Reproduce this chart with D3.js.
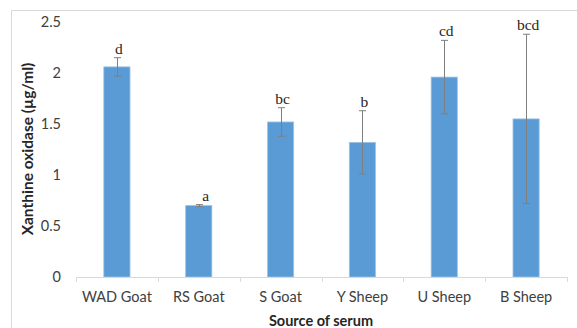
<!DOCTYPE html>
<html>
<head>
<meta charset="utf-8">
<script src="https://cdn.jsdelivr.net/npm/d3@7/dist/d3.min.js"></script>
<style>
  html, body { margin: 0; padding: 0; background: #fff; }
  svg { display: block; }
</style>
</head>
<body>
<div id="chart"></div>
<script>
// Serum xanthine oxidase by animal source
const categories = ["WAD Goat", "RS Goat", "S Goat", "Y Sheep", "U Sheep", "B Sheep"];
const means = [2.06, 0.70, 1.52, 1.32, 1.96, 1.55];
const errors = [0.09, 0.01, 0.14, 0.31, 0.36, 0.83];
const groups = ["d", "a", "bc", "b", "cd", "bcd"];
const yTicks = [0, 0.5, 1, 1.5, 2, 2.5];
const yTickLabels = ["0", "0.5", "1", "1.5", "2", "2.5"];

const W = 577, H = 328;
const svg = d3.select("#chart").append("svg").attr("width", W).attr("height", H);

// chart area frame (top and left edges visible)
svg.append("path")
  .attr("d", "M11.5,340 L11.5,10.5 L580,10.5")
  .attr("fill", "none").attr("stroke", "#d9d9d9").attr("stroke-width", 1);

const plot = { left: 76, right: 567, top: 22, bottom: 277 };

const x = d3.scaleBand().domain(categories).range([plot.left, plot.right]).paddingInner(0.68).paddingOuter(0.34);
const xTickScale = d3.scaleBand().domain(categories).range([plot.left, plot.right]);
const y = d3.scaleLinear().domain([0, 2.5]).range([plot.bottom, plot.top]);

const fontSans = "Lato, 'Open Sans', sans-serif";

// y tick labels
svg.append("g").selectAll("text").data(yTicks).join("text")
  .attr("x", 61).attr("y", d => y(d)).attr("dy", "0.35em")
  .attr("text-anchor", "end")
  .attr("font-family", fontSans).attr("font-size", 14.5).attr("fill", "#404040")
  .text((d, i) => yTickLabels[i]);

// bars
svg.append("g").selectAll("rect").data(categories).join("rect")
  .attr("x", d => x(d)).attr("width", x.bandwidth())
  .attr("y", (d, i) => y(means[i])).attr("height", (d, i) => y(0) - y(means[i]))
  .attr("fill", "#5b9bd5").attr("stroke", "#9dc3e6").attr("stroke-width", 0.8);

// x axis line and tick marks
svg.append("line").attr("x1", plot.left).attr("x2", plot.right)
  .attr("y1", plot.bottom + 0.5).attr("y2", plot.bottom + 0.5)
  .attr("stroke", "#d9d9d9").attr("stroke-width", 1);
const tickPos = categories.map(c => xTickScale(c)).concat([plot.right]);
svg.append("g").selectAll("line").data(tickPos).join("line")
  .attr("x1", d => Math.round(d) + 0.5).attr("x2", d => Math.round(d) + 0.5)
  .attr("y1", plot.bottom).attr("y2", plot.bottom + 5)
  .attr("stroke", "#d9d9d9");

// category labels
svg.append("g").selectAll("text").data(categories).join("text")
  .attr("x", d => xTickScale(d) + xTickScale.bandwidth() / 2).attr("y", 302)
  .attr("text-anchor", "middle")
  .attr("font-family", fontSans).attr("font-size", 14.5).attr("fill", "#404040")
  .text(d => d);

// error bars
const eb = svg.append("g").attr("stroke", "#7f7f7f").attr("stroke-width", 1);
categories.forEach((c, i) => {
  const cx = Math.round(x(c) + x.bandwidth() / 2) + 0.5;
  const hi = y(means[i] + errors[i]), lo = y(means[i] - errors[i]);
  eb.append("line").attr("x1", cx).attr("x2", cx).attr("y1", hi).attr("y2", lo);
  eb.append("line").attr("x1", cx - 3.5).attr("x2", cx + 3.5).attr("y1", hi).attr("y2", hi);
  eb.append("line").attr("x1", cx - 3.5).attr("x2", cx + 3.5).attr("y1", lo).attr("y2", lo);
});

// significance letters
svg.append("g").selectAll("text").data(categories).join("text")
  .attr("x", (d, i) => x(d) + x.bandwidth() / 2 + (i === 1 ? 7 : 2))
  .attr("y", (d, i) => y(means[i] + errors[i]) - 4)
  .attr("text-anchor", "middle")
  .attr("font-family", "'Liberation Serif', 'Times New Roman', serif")
  .attr("font-size", 15.5).attr("fill", "#262626")
  .text((d, i) => groups[i]);

// axis titles
svg.append("text")
  .attr("transform", `translate(33,${149}) rotate(-90)`)
  .attr("text-anchor", "middle")
  .attr("font-family", fontSans).attr("font-size", 15.5).attr("font-weight", "bold").attr("fill", "#262626")
  .text("Xanthine oxidase (µg/ml)");

svg.append("text")
  .attr("x", 321).attr("y", 326)
  .attr("text-anchor", "middle")
  .attr("font-family", fontSans).attr("font-size", 14.5).attr("font-weight", "bold").attr("fill", "#262626")
  .text("Source of serum");
</script>
</body>
</html>
